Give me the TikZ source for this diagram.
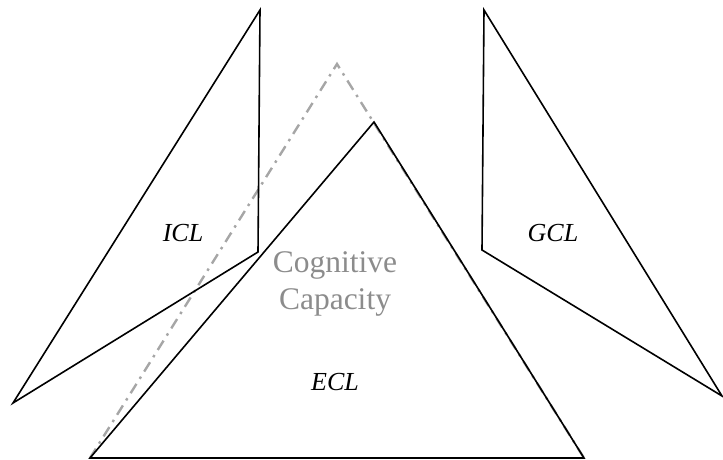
\documentclass[tikz,border=0pt]{standalone}
\usepackage{fontspec}
\setmainfont{Liberation Serif}
\usepackage{tikz}
\usepackage{xcolor}

\begin{document}
\begin{tikzpicture}[x=1pt,y=-1pt,
    charge/.style={font=\fontsize{26}{30}\selectfont\itshape},
    capacite/.style={font=\fontsize{31.5}{37}\selectfont, text=black!45, align=center},
    bord/.style={line width=1.6pt, line join=miter},
    pointille/.style={line width=2.4pt, black!35, dash pattern=on 11pt off 6pt on 2.5pt off 6pt}]
    % cadre
    \useasboundingbox (0,0) rectangle (723,460);
    % sommets
    \coordinate (Ih) at (260,10);
    \coordinate (Ib) at (258,252);
    \coordinate (Ig) at (13,403);
    \coordinate (Gh) at (484,10);
    \coordinate (Gb) at (482,250);
    \coordinate (Gd) at (722,396);
    \coordinate (Eh) at (374,122);
    \coordinate (Eg) at (90,458);
    \coordinate (Ed) at (584,458);
    \coordinate (Ch) at (337,64);
    % capacité cognitive (gris)
    \draw[pointille] (Eg) -- (Ch) -- (Ed);
    %triangles
    \draw[bord] (Ih) -- (Ib) -- (Ig) -- cycle;
    \draw[bord] (Gh) -- (Gb) -- (Gd) -- cycle;
    \draw[bord] (Eh) -- (Ed) -- (Eg) -- cycle;
    % textes
    \node[charge] (icl) at (183,233) {ICL};
    \node[charge] (gcl) at (553,233) {GCL};
    \node[charge] (ecl) at (335,382) {ECL};
    \node[capacite] (cc) at (335,284) {Cognitive\\Capacity};
\end{tikzpicture}
\end{document}
